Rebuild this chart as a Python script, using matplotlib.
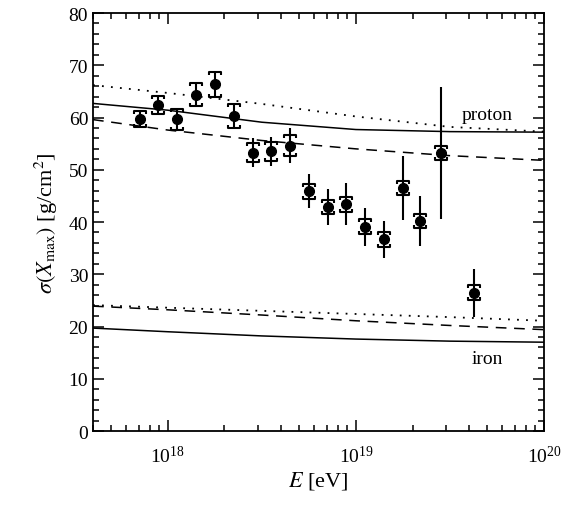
import numpy as np
import matplotlib.pyplot as plt
from matplotlib.path import Path
from matplotlib.ticker import MultipleLocator, LogLocator, NullFormatter

plt.rcParams['font.family'] = 'serif'
plt.rcParams['font.serif'] = ['Liberation Serif', 'DejaVu Serif']
plt.rcParams['mathtext.fontset'] = 'stix'

# data points
energy = [7.1e17, 8.9e17, 1.12e18, 1.41e18, 1.78e18, 2.24e18, 2.82e18, 3.55e18, 4.47e18,
          5.62e18, 7.08e18, 8.91e18, 1.12e19, 1.41e19, 1.78e19, 2.2e19, 2.82e19, 4.22e19]
sigma = [59.7, 62.4, 59.7, 64.4, 66.4, 60.2, 53.3, 53.5, 54.6,
         45.9, 42.9, 43.4, 39.1, 36.7, 46.5, 40.2, 53.2, 26.5]
stat_err = [1.6, 1.8, 2.0, 2.2, 2.4, 2.4, 2.7, 2.8, 3.3,
            3.3, 3.4, 4.0, 3.6, 3.5, 6.2, 4.7, 12.6, 4.6]
sys_err = [1.6, 1.8, 2.0, 2.2, 2.4, 2.3, 1.9, 1.9, 2.0,
           1.4, 1.4, 1.4, 1.4, 1.4, 1.3, 1.4, 1.4, 1.4]

# model curves
model_E = [4.0e17, 1e18, 10**18.5, 1e19, 10**19.5, 1e20]
p_solid = [62.7, 61.4, 59.1, 57.7, 57.3, 57.2]
p_dot = [66.2, 64.7, 62.6, 60.2, 58.2, 57.3]
p_dash = [59.6, 57.6, 55.6, 54.0, 52.7, 51.8]
fe_solid = [19.7, 19.0, 18.2, 17.6, 17.2, 17.0]
fe_dot = [24.1, 23.6, 23.0, 22.4, 21.8, 21.1]
fe_dash = [23.9, 23.2, 22.2, 21.1, 20.2, 19.4]

fig = plt.figure(figsize=(5.65, 5.06), dpi=100)
ax = fig.add_axes([0.1646, 0.1462, 0.7982, 0.8261])

for ys in (p_solid, fe_solid):
    ax.plot(model_E, ys, 'k-', lw=1.1)
for ys in (p_dot, fe_dot):
    ax.plot(model_E, ys, 'k', ls=(0, (1, 4)), lw=1.3)
for ys in (p_dash, fe_dash):
    ax.plot(model_E, ys, 'k', ls=(0, (7, 5)), lw=1.1)

# statistical errors
ax.errorbar(energy, sigma, yerr=stat_err, fmt='o', color='k', ms=7, elinewidth=1.5, capsize=0, zorder=5)

# systematic brackets
top_cap = Path([(-1, -0.55), (-1, 0), (1, 0), (1, -0.55)],
               [Path.MOVETO, Path.LINETO, Path.LINETO, Path.LINETO])
bot_cap = Path([(-1, 0.55), (-1, 0), (1, 0), (1, 0.55)],
               [Path.MOVETO, Path.LINETO, Path.LINETO, Path.LINETO])
e = np.array(energy)
s = np.array(sigma)
d = np.array(sys_err)
ax.plot(e, s + d, ls='none', marker=top_cap, ms=9, mfc='none', mec='k', mew=1.5, zorder=6)
ax.plot(e, s - d, ls='none', marker=bot_cap, ms=9, mfc='none', mec='k', mew=1.5, zorder=6)

ax.text(5.0e19, 60.6, 'proton', fontsize=14, ha='center', va='center')
ax.text(5.0e19, 13.8, 'iron', fontsize=14, ha='center', va='center')

ax.set_xscale('log')
ax.set_xlim(4.0e17, 1e20)
ax.set_ylim(0, 80)
ax.yaxis.set_major_locator(MultipleLocator(10))
ax.yaxis.set_minor_locator(MultipleLocator(2))
ax.xaxis.set_major_locator(LogLocator(base=10, numticks=10))
ax.xaxis.set_minor_locator(LogLocator(base=10, subs=np.arange(2, 10), numticks=20))
ax.xaxis.set_minor_formatter(NullFormatter())
ax.tick_params(which='both', direction='in', top=True, right=True, labelsize=14, width=1.1)
ax.tick_params(which='major', length=8)
ax.tick_params(which='minor', length=4)
ax.tick_params(axis='x', pad=10)
for sp in ax.spines.values():
    sp.set_linewidth(1.3)

ax.set_xlabel(r'$E$ [eV]', fontsize=16, labelpad=2)
ax.set_ylabel(r'$\sigma(X_{\rm max})$ [g/cm$^2$]', fontsize=16, labelpad=6)

fig.savefig('out.png', dpi=100)
